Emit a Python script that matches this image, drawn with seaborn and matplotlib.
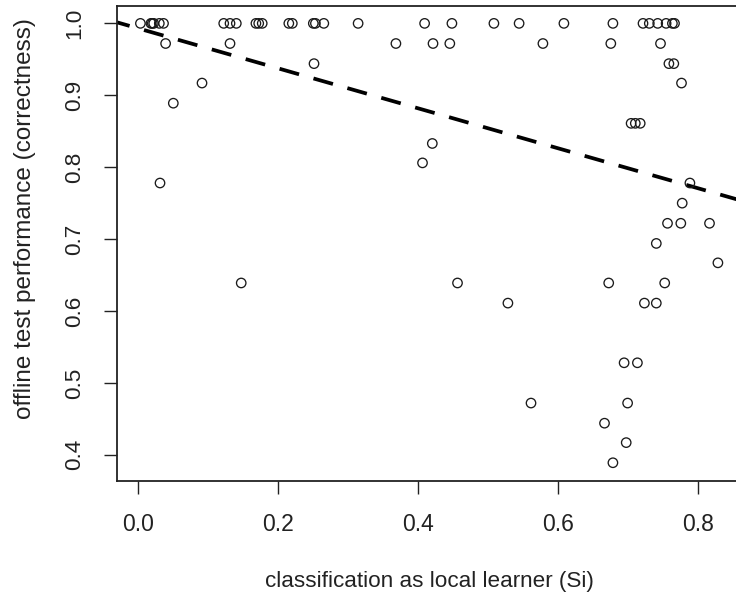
import numpy as np
import pandas as pd
import seaborn as sns
import matplotlib
matplotlib.use('Agg')
import matplotlib.pyplot as plt

# classification as local learner (Si) for each participant
si_values = [
    0.003, 0.018, 0.020, 0.022, 0.030, 0.036, 0.122, 0.131, 0.140, 0.168,
    0.172, 0.177, 0.215, 0.220, 0.250, 0.253, 0.265, 0.314, 0.409, 0.448,
    0.508, 0.544, 0.608, 0.678, 0.721, 0.730, 0.742, 0.754, 0.763, 0.766,
    0.039, 0.131, 0.368, 0.421, 0.445, 0.578, 0.675, 0.746,
    0.251, 0.758, 0.765,
    0.091, 0.776,
    0.050,
    0.704, 0.710, 0.717,
    0.420,
    0.406,
    0.031, 0.788,
    0.777,
    0.756, 0.775, 0.816,
    0.740,
    0.828,
    0.147, 0.456, 0.672, 0.752,
    0.528, 0.723, 0.740,
    0.694, 0.713,
    0.561, 0.699,
    0.666,
    0.697,
    0.678,
]

# offline test performance (correctness), same order as si_values
correctness = (
    [1.000] * 30
    + [0.972] * 8
    + [0.944] * 3
    + [0.917] * 2
    + [0.889]
    + [0.861] * 3
    + [0.833]
    + [0.806]
    + [0.778] * 2
    + [0.750]
    + [0.722] * 3
    + [0.694]
    + [0.667]
    + [0.639] * 4
    + [0.611] * 3
    + [0.528] * 2
    + [0.472] * 2
    + [0.444]
    + [0.417]
    + [0.389]
)

# fitted line
fit_intercept = 0.993
fit_slope = -0.278

x_ticks = [0.0, 0.2, 0.4, 0.6, 0.8]
y_ticks = [0.4, 0.5, 0.6, 0.7, 0.8, 0.9, 1.0]

df = pd.DataFrame({'si': si_values, 'correct': correctness})

sns.set_theme(style='white')
plt.rcParams['font.family'] = ['Liberation Sans', 'DejaVu Sans']

fig = plt.figure(figsize=(7.36, 5.94), dpi=100)
ax = fig.add_axes([0.1594, 0.1907, 0.8474, 0.799])

ax.set_xlim(-0.030, 0.861)
ax.set_ylim(0.364, 1.024)

sns.scatterplot(data=df, x='si', y='correct', ax=ax, marker='o', s=46,
                facecolor='none', edgecolor='#1a1a1a', linewidth=0.95, zorder=3)

x_line = np.array(ax.get_xlim())
line_df = pd.DataFrame({'si': x_line, 'correct': fit_intercept + fit_slope * x_line})
sns.lineplot(data=line_df, x='si', y='correct', ax=ax, color='black', lw=2.7,
             linestyle=(2, (5.4, 4.0)), zorder=2)

ax.set_xlim(-0.030, 0.861)
ax.set_ylim(0.364, 1.024)

for s in ax.spines.values():
    s.set_visible(True)
    s.set_color('#222222')
    s.set_linewidth(1.3)

ax.set_xticks(x_ticks)
ax.set_xticklabels([f'{v:.1f}' for v in x_ticks])
ax.set_yticks(y_ticks)
ax.set_yticklabels([f'{v:.1f}' for v in y_ticks])
ax.tick_params(direction='out', length=9.4, width=1.0, color='#222222',
               labelcolor='#222222', left=True, bottom=True)
ax.tick_params(axis='x', pad=13.5, labelsize=16.5)
ax.tick_params(axis='y', labelrotation=90, pad=14, labelsize=16.2)
for lbl in ax.get_yticklabels():
    lbl.set_va('center')

ax.set_xlabel('classification as local learner (Si)', fontsize=16.2, color='#222222', va='center')
ax.xaxis.set_label_coords(0.5, -0.212)
ax.set_ylabel('offline test performance (correctness)', fontsize=17.5, color='#222222', va='center')
ax.yaxis.set_label_coords(-0.148, 0.552)

fig.savefig('out.png', dpi=100)
plt.close(fig)
